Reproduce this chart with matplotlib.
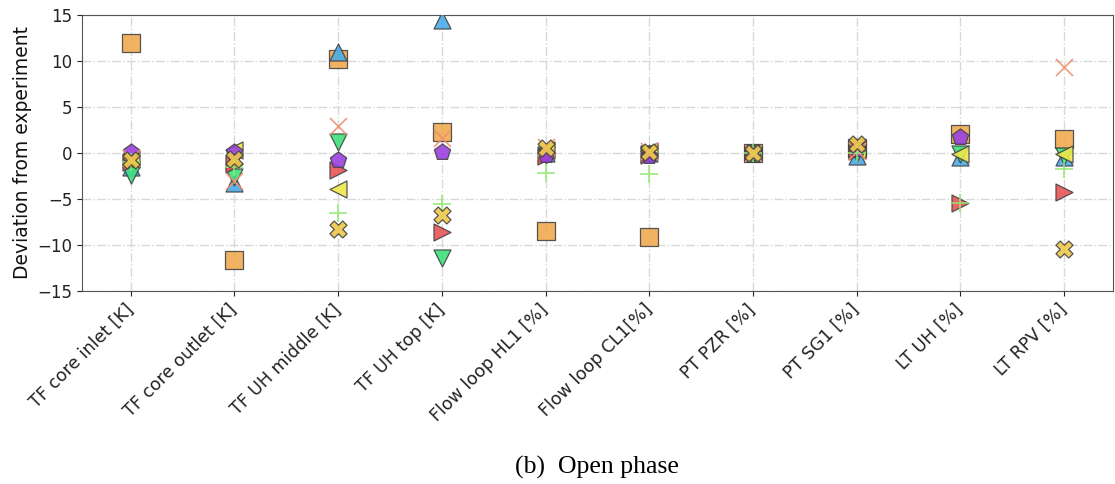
import matplotlib
matplotlib.use("Agg")
import matplotlib.pyplot as plt
import numpy as np

nan = np.nan
categories = ["TF core inlet [K]", "TF core outlet [K]", "TF UH middle [K]", "TF UH top [K]",
              "Flow loop HL1 [%]", "Flow loop CL1[%]", "PT PZR [%]", "PT SG1 [%]",
              "LT UH [%]", "LT RPV [%]"]

square_vals   = [12.0, -11.6, 10.2, 2.3, -8.5, -9.1, 0.0, 0.5, 2.1, 1.5]
tri_up_vals   = [-1.5, -3.3, 11.0, 14.5, 0.0, 0.0, 0.0, -0.3, -0.4, -0.4]
tri_down_vals = [-2.4, -2.6, 1.2, -11.4, -0.2, -0.1, 0.0, 0.0, -0.1, -0.3]
tri_right_vals= [-1.0, -1.2, -1.9, -8.55, -0.3, -0.2, 0.0, 0.2, -5.4, -4.3]
tri_left_vals = [-0.7, 0.3, -3.9, nan, 0.3, 0.2, 0.0, 0.3, -0.1, -0.1]
pentagon_vals = [0.1, 0.1, -0.8, 0.15, -0.2, -0.3, 0.0, 0.4, 1.7, nan]
xthin_vals    = [-0.5, -3.0, 2.9, 1.6, 0.6, 0.2, 0.0, 0.2, nan, 9.3]
plus_vals     = [-1.0, -1.5, -6.5, -5.5, -2.2, -2.3, 0.0, 0.0, -5.4, -1.7]
xfill_vals    = [-0.8, -0.7, -8.3, -6.7, 0.5, 0.1, 0.0, 1.0, nan, -10.4]

series = [
    (square_vals,    "s", "#f0aa50", True),
    (tri_up_vals,    "^", "#4aaae8", True),
    (tri_down_vals,  "v", "#3ee07a", True),
    (tri_right_vals, ">", "#e85555", True),
    (tri_left_vals,  "<", "#eee84a", True),
    (pentagon_vals,  "p", "#9a40e0", True),
    (xthin_vals,     "x", "#f09070", False),
    (plus_vals,      "+", "#90e870", False),
    (xfill_vals,     "X", "#eec84a", True),
]

fig = plt.figure(figsize=(11.15, 4.84), dpi=100)
ax = fig.add_axes([0.0735, 0.399, 0.9245, 0.570])

x = np.arange(len(categories))
for vals, mk, col, filled in series:
    if filled:
        ax.scatter(x, vals, marker=mk, s=150, c=col, edgecolors="#444444",
                   linewidths=0.9, alpha=0.9, zorder=3)
    else:
        ax.scatter(x, vals, marker=mk, s=150, c=col, linewidths=1.2,
                   alpha=0.9, zorder=3)

ax.set_xlim(-0.47, 9.47)
ax.set_ylim(-15, 15)
ax.set_yticks([-15, -10, -5, 0, 5, 10, 15])
ax.set_xticks(x)
ax.set_xticklabels(categories, rotation=45, ha="right", va="center",
                   rotation_mode="anchor", fontsize=12.5)
ax.tick_params(axis="x", pad=8, colors="#222222")
ax.tick_params(axis="y", labelsize=12, colors="#222222")
ax.set_ylabel("Deviation from experiment", fontsize=13.5, color="#111111")
ax.grid(True, linestyle="-.", color="#d8d8d8", linewidth=1.0, zorder=0)
ax.set_axisbelow(True)
for sp in ax.spines.values():
    sp.set_color("#555555")

fig.text(0.535, 0.035, "(b)  Open phase", ha="center", va="center",
         family="Liberation Serif", fontsize=18.5)

fig.savefig("out.png", dpi=100)
